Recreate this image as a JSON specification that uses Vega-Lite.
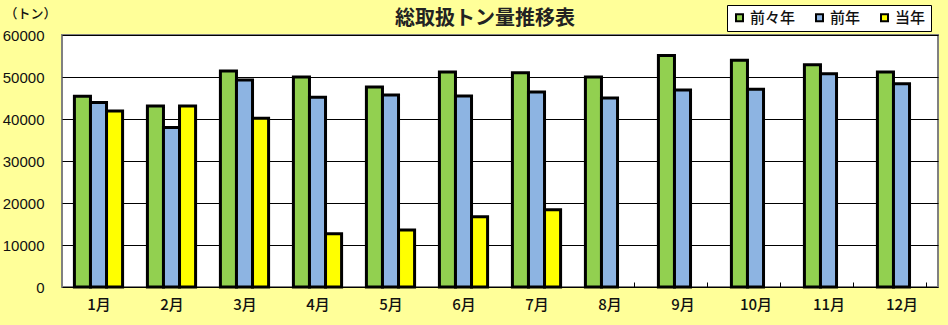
{
  "$schema": "https://vega.github.io/schema/vega-lite/v6.json",
  "width": 876,
  "height": 252,
  "autosize": {"type": "none"},
  "padding": {"left": 62, "top": 35, "right": 10, "bottom": 38},
  "background": "#FFFF99",
  "view": {"fill": "white", "stroke": "#808080", "strokeWidth": 2},
  "title": {
    "text": "総取扱トン量推移表",
    "font": "Noto Sans CJK JP",
    "fontSize": 20,
    "fontWeight": "bold",
    "color": "#222222",
    "anchor": "middle",
    "dx": -15,
    "dy": 22,
    "baseline": "bottom",
    "offset": -22
  },
  "data": {
    "values": [
      {"month": "1月", "series": "前々年", "value": 45400},
      {"month": "1月", "series": "前年", "value": 43900},
      {"month": "1月", "series": "当年", "value": 41900},
      {"month": "2月", "series": "前々年", "value": 43100},
      {"month": "2月", "series": "前年", "value": 38000},
      {"month": "2月", "series": "当年", "value": 43100},
      {"month": "3月", "series": "前々年", "value": 51400},
      {"month": "3月", "series": "前年", "value": 49300},
      {"month": "3月", "series": "当年", "value": 40200},
      {"month": "4月", "series": "前々年", "value": 50000},
      {"month": "4月", "series": "前年", "value": 45200},
      {"month": "4月", "series": "当年", "value": 12700},
      {"month": "5月", "series": "前々年", "value": 47600},
      {"month": "5月", "series": "前年", "value": 45700},
      {"month": "5月", "series": "当年", "value": 13600},
      {"month": "6月", "series": "前々年", "value": 51200},
      {"month": "6月", "series": "前年", "value": 45500},
      {"month": "6月", "series": "当年", "value": 16700},
      {"month": "7月", "series": "前々年", "value": 51000},
      {"month": "7月", "series": "前年", "value": 46400},
      {"month": "7月", "series": "当年", "value": 18400},
      {"month": "8月", "series": "前々年", "value": 50000},
      {"month": "8月", "series": "前年", "value": 45000},
      {"month": "9月", "series": "前々年", "value": 55100},
      {"month": "9月", "series": "前年", "value": 46900},
      {"month": "10月", "series": "前々年", "value": 54000},
      {"month": "10月", "series": "前年", "value": 47100},
      {"month": "11月", "series": "前々年", "value": 52900},
      {"month": "11月", "series": "前年", "value": 50800},
      {"month": "12月", "series": "前々年", "value": 51200},
      {"month": "12月", "series": "前年", "value": 48400}
    ]
  },
  "mark": {"type": "bar", "stroke": "black", "strokeWidth": 3},
  "encoding": {
    "x": {
      "field": "month",
      "type": "nominal",
      "sort": ["1月","2月","3月","4月","5月","6月","7月","8月","9月","10月","11月","12月"],
      "scale": {"paddingInner": 0.34, "paddingOuter": 0.17},
      "axis": {
        "title": null,
        "labelAngle": 0,
        "labelFont": "Noto Sans CJK JP",
        "labelFontSize": 15,
        "labelFontWeight": 500,
        "labelColor": "#111111",
        "labelPadding": 15,
        "domain": false,
        "ticks": true,
        "tickBand": "extent",
        "tickSize": -5,
        "tickColor": "black",
        "tickWidth": 1,
        "grid": false
      }
    },
    "xOffset": {
      "field": "series",
      "type": "nominal",
      "sort": ["前々年", "前年", "当年"],
      "scale": {"domain": ["前々年", "前年", "当年"], "paddingInner": 0, "paddingOuter": 0}
    },
    "y": {
      "field": "value",
      "type": "quantitative",
      "scale": {"domain": [0, 60000], "nice": false},
      "axis": {
        "values": [0, 10000, 20000, 30000, 40000, 50000, 60000],
        "format": "d",
        "title": "（トン）",
        "titleAngle": 0,
        "titleAlign": "left",
        "titleBaseline": "middle",
        "titleX": -58,
        "titleY": -22,
        "titleFont": "Noto Sans CJK JP",
        "titleFontSize": 13,
        "titleFontWeight": 500,
        "titleColor": "#111111",
        "labelFont": "Liberation Sans",
        "labelFontSize": 15,
        "labelColor": "#111111",
        "labelPadding": 18,
        "ticks": false,
        "domain": false,
        "grid": true,
        "gridColor": "black",
        "gridWidth": 1,
        "gridOpacity": 1
      }
    },
    "color": {
      "field": "series",
      "type": "nominal",
      "sort": ["前々年", "前年", "当年"],
      "scale": {"domain": ["前々年", "前年", "当年"], "range": ["#92D050", "#8DB4E2", "#FFFF00"]},
      "legend": {
        "title": null,
        "orient": "none",
        "direction": "horizontal",
        "legendX": 665,
        "legendY": -30,
        "fillColor": "white",
        "strokeColor": "black",
        "padding": 5,
        "symbolType": "square",
        "symbolSize": 49,
        "symbolStrokeColor": "black",
        "symbolStrokeWidth": 2,
        "symbolOpacity": 1,
        "labelFont": "Noto Sans CJK JP",
        "labelFontSize": 15,
        "labelFontWeight": 500,
        "labelColor": "#111111",
        "labelOffset": 3,
        "columnPadding": 16
      }
    }
  }
}
